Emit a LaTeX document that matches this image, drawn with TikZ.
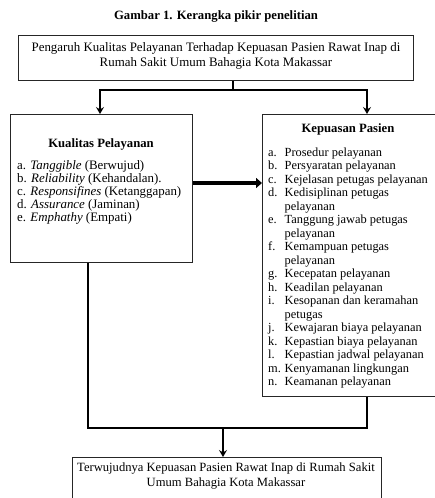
\documentclass[tikz,border=0pt]{standalone}
\usepackage{fontspec}
\setmainfont{Liberation Serif}
\usetikzlibrary{arrows.meta}
\begin{document}
\begin{tikzpicture}[x=1pt,y=-1pt,
  box/.style={draw=black!85, line width=1.3pt, anchor=north west, inner sep=0pt},
  conn/.style={line width=2.4pt, draw=black},
  arr/.style={conn, -{Stealth[length=7pt,width=8pt,inset=2.5pt]}},
  txt/.style={inner sep=0pt, font=\fontsize{12.4}{13.5}\selectfont}]
\fill[white] (0,0) rectangle (434,498);
\useasboundingbox (0,0) rectangle (434,498);
% title
\node[txt, anchor=base, font=\fontsize{12.7}{13}\selectfont\bfseries] (title) at (216,19) {Gambar 1. Kerangka pikir penelitian};
% boxes
\node[box, minimum width=395pt, minimum height=45pt] (top) at (18,35) {};
\node[box, minimum width=182pt, minimum height=148pt] (kual) at (10,114) {};
\node[box, minimum width=176pt, minimum height=282pt] (kep) at (262,114) {};
\node[box, minimum width=309pt, minimum height=50pt] (bot) at (72,457) {};
% texts
\node[txt, anchor=base, font=\fontsize{12.9}{15.5}\selectfont] (toptext) at (216,51) {\begin{tabular}[t]{@{}c@{}}Pengaruh Kualitas Pelayanan Terhadap Kepuasan Pasien Rawat Inap di\\ Rumah Sakit Umum Bahagia Kota Makassar\end{tabular}};
\node[txt, anchor=base, font=\fontsize{12.7}{13}\selectfont\bfseries] (kualtitle) at (101,147) {Kualitas Pelayanan};
\node[txt, anchor=base west, font=\fontsize{12.9}{13}\selectfont] (kualitems) at (17,169) {\begin{tabular}[t]{@{}l@{}}
a. \textit{Tanggible} (Berwujud)\\
b. \textit{Reliability} (Kehandalan).\\
c. \textit{Responsifines} (Ketanggapan)\\
d. \textit{Assurance} (Jaminan)\\
e. \textit{Emphathy} (Empati)\end{tabular}};
\node[txt, anchor=base, font=\fontsize{12.7}{13}\selectfont\bfseries] (keptitle) at (348,132) {Kepuasan Pasien};
\node[txt, anchor=base west] (kepitems) at (268,156) {\begin{tabular}[t]{@{}p{16.5pt}@{}l@{}}
a. & Prosedur pelayanan\\
b. & Persyaratan pelayanan\\
c. & Kejelasan petugas pelayanan\\
d. & Kedisiplinan petugas\\
   & pelayanan\\
e. & Tanggung jawab petugas\\
   & pelayanan\\
f. & Kemampuan petugas\\
   & pelayanan\\
g. & Kecepatan pelayanan\\
h. & Keadilan pelayanan\\
i. & Kesopanan dan keramahan\\
   & petugas\\
j. & Kewajaran biaya pelayanan\\
k. & Kepastian biaya pelayanan\\
l. & Kepastian jadwal pelayanan\\
m. & Kenyamanan lingkungan\\
n. & Keamanan pelayanan\end{tabular}};
\node[txt, anchor=base, font=\fontsize{12.6}{15}\selectfont] (bottext) at (226,471) {\begin{tabular}[t]{@{}c@{}}Terwujudnya Kepuasan Pasien Rawat Inap di Rumah Sakit\\ Umum Bahagia Kota Makassar\end{tabular}};
% connectors
\coordinate (j) at (233,90);
\coordinate (jl) at (100,90);
\coordinate (jr) at (367,90);
\draw[conn] (top.south -| j) -- (j);
\draw[conn, line cap=rect] (jl) -- (jr);
\draw[arr] (jl) -- (jl |- kual.north);
\draw[arr] (jr) -- (jr |- kep.north);
\coordinate (mid) at (0,183);
\draw[line width=4pt, -{Triangle[length=6pt,width=10pt]}] (kual.east |- mid) -- (kep.west |- mid);
\coordinate (bl) at (88,428);
\coordinate (br) at (367,428);
\coordinate (bm) at (223,428);
\draw[conn, line join=miter] (kual.south -| bl) -- (bl) -- (br) -- (kep.south -| br);
\draw[arr] (bm) -- (bm |- bot.north);
\end{tikzpicture}
\end{document}
